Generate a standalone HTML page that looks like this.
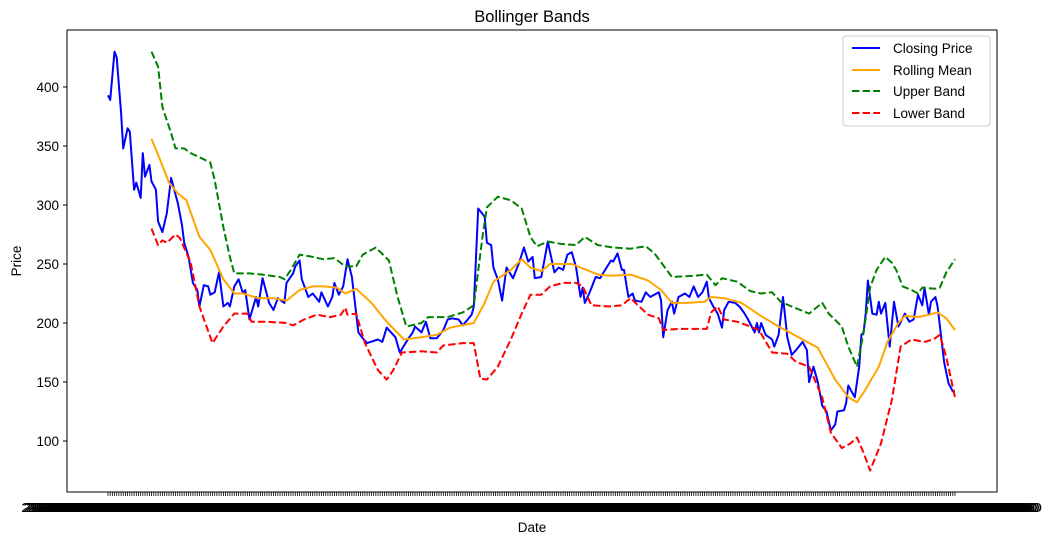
<!DOCTYPE html>
<html><head><meta charset="utf-8"><style>
html,body{margin:0;padding:0;background:#fff;}
svg{display:block;font-family:"Liberation Sans","DejaVu Sans",sans-serif;}
</style></head><body>
<svg id="chart" width="1052" height="545" viewBox="0 0 1052 545" xmlns="http://www.w3.org/2000/svg">
<rect width="1052" height="545" fill="#fff"/>
<text x="532" y="22" font-size="16.5" text-anchor="middle">Bollinger Bands</text>
<text transform="translate(21,261) rotate(-90)" font-size="13.5" text-anchor="middle">Price</text>
<text x="532" y="532" font-size="13.5" text-anchor="middle">Date</text>
<g id="yaxis"></g>
<g id="xaxis"></g>
<g id="plot"></g>
<rect x="67" y="30" width="930" height="462" fill="none" stroke="#000" stroke-width="1"/>
<g>
<rect x="843" y="36" width="147" height="90" rx="3" fill="#fff" fill-opacity="0.8" stroke="#ccc"/>
<g><line x1="852" y1="48" x2="880" y2="48" stroke="#0000ff" stroke-width="2"/><text x="893" y="53" font-size="13.5">Closing Price</text></g>
<g><line x1="852" y1="70" x2="880" y2="70" stroke="#ffa500" stroke-width="2"/><text x="893" y="75" font-size="13.5">Rolling Mean</text></g>
<g><line x1="852" y1="91" x2="880" y2="91" stroke="#008000" stroke-width="2" stroke-dasharray="7.4,3.2"/><text x="893" y="96" font-size="13.5">Upper Band</text></g>
<g><line x1="852" y1="113" x2="880" y2="113" stroke="#ff0000" stroke-width="2" stroke-dasharray="7.4,3.2"/><text x="893" y="118" font-size="13.5">Lower Band</text></g>
</g>
</svg>
<script>
const nDays = 390;
const yTicks = [100,150,200,250,300,350,400];
const closeIdx = [0,1,3,4,6,7,9,10,12,13,15,16,17,19,20,22,23,25,27,29,32,34,35,37,39,41,42,44,46,47,49,51,53,55,56,58,60,62,63,65,68,69,71,74,76,78,81,82,85,86,88,89,92,94,97,98,101,103,104,106,108,110,112,115,117,119,124,126,128,130,132,134,138,140,141,144,146,148,151,154,156,158,161,163,167,168,170,173,174,176,177,179,181,183,186,189,191,193,195,196,199,202,205,207,209,211,213,215,217,218,219,221,224,226,229,231,232,234,236,237,239,241,242,245,247,249,253,254,255,257,259,260,262,265,267,269,271,273,275,276,278,280,282,283,285,288,290,292,294,297,298,299,300,302,305,306,308,310,312,314,316,319,321,322,324,326,328,330,332,334,335,338,339,340,343,345,346,347,348,349,351,353,354,355,357,359,361,363,366,368,370,372,374,375,377,378,380,381,384,386,388,389];
const closeVals = [393,389,430,425,378,348,365,362,313,319,306,344,324,334,320,313,286,277,293,323,302,283,268,256,234,228,214,232,231,224,226,243,214,217,214,231,237,225,228,203,222,214,238,217,211,221,217,234,242,248,253,237,222,225,218,226,214,222,234,224,231,254,239,192,187,183,186,184,196,192,188,175,187,192,197,192,201,187,187,194,203,204,203,198,207,214,297,290,268,266,247,237,219,247,238,252,264,252,256,238,239,269,243,247,245,258,260,247,222,230,217,225,239,238,247,253,252,259,245,245,222,225,219,218,226,222,226,219,188,211,218,208,222,225,222,231,222,226,235,221,214,208,196,211,218,217,214,209,203,192,200,192,200,190,186,180,190,222,188,173,177,184,177,150,163,150,130,125,109,114,125,126,132,147,137,163,190,192,208,236,208,207,218,208,217,180,218,197,208,201,203,224,215,230,207,218,222,214,167,149,142,142];
const meanIdx = [20,24,28,32,36,42,47,53,58,62,69,76,82,88,94,99,105,109,114,121,128,136,144,151,157,168,173,177,185,190,194,199,203,213,217,225,231,240,248,254,259,266,274,277,283,291,299,308,318,326,334,340,344,347,354,358,363,366,372,377,381,385,389];
const meanVals = [356,338,319,310,304,273,262,237,225,225,221,221,219,228,231,231,230,225,229,217,201,186,188,190,196,200,217,235,245,254,247,244,250,250,247,241,240,241,236,228,217,217,218,222,221,217,207,197,187,179,152,137,133,141,163,184,200,206,205,207,209,204,194];
const upperIdx = [20,23,25,29,31,35,38,47,49,53,56,58,65,71,79,81,84,88,94,99,104,109,114,117,123,129,133,137,144,147,156,163,168,172,174,179,185,190,194,197,202,208,215,219,225,232,240,247,251,255,259,269,275,279,282,289,295,300,305,309,314,322,328,331,337,340,344,347,350,353,357,360,362,365,369,372,374,380,382,385,389];
const upperVals = [430,417,383,361,348,348,344,336,321,281,256,242,242,241,239,237,245,258,256,254,255,248,248,258,264,253,222,197,200,205,205,209,215,273,298,307,304,297,273,265,269,267,266,273,266,264,263,265,259,249,239,240,241,232,238,235,227,225,226,218,214,208,217,208,197,180,163,192,230,245,256,251,245,231,228,225,230,229,230,243,254];
const lowerIdx = [20,23,25,27,31,33,38,42,48,53,58,64,66,73,82,85,90,96,102,107,109,110,114,118,124,128,131,135,144,151,154,163,168,171,174,179,185,190,194,199,203,209,215,218,222,230,236,240,244,248,253,255,262,275,277,280,283,289,295,299,305,312,316,322,328,332,337,341,344,347,350,355,360,364,369,375,379,382,385,389];
const lowerVals = [280,266,270,268,275,272,251,214,183,197,208,208,201,201,200,198,203,207,205,207,213,207,208,183,160,152,160,175,176,175,181,183,183,153,152,163,186,208,224,224,231,234,234,231,215,214,215,221,214,207,204,194,195,195,209,214,203,201,197,194,175,174,167,163,137,107,94,98,103,90,75,98,135,180,186,184,186,190,171,137];

const NS = 'http://www.w3.org/2000/svg';
const X0 = 108, X1 = 955;
function xs(i){ return X0 + (X1 - X0) * i / (nDays - 1); }
function ys(v){ return 87 + (400 - v) * 1.18; }
function mk(tag, attrs, parent){ const e = document.createElementNS(NS, tag); for (const k in attrs) e.setAttribute(k, attrs[k]); parent.appendChild(e); return e; }

const yaxis = document.getElementById('yaxis');
yTicks.forEach(t => {
  const ln = mk('line', {x1:63, x2:67, y1:ys(t), y2:ys(t), stroke:'#000'}, yaxis);
  
  
  const tx = mk('text', {x:59, y:ys(t)+5, 'font-size':13.5, 'text-anchor':'end'}, yaxis);
  
  
  tx.textContent = t;
});

// date labels (business days)
const dateLabels = [];
let d = new Date(Date.UTC(2022, 0, 3));
while (dateLabels.length < nDays) {
  const wd = d.getUTCDay();
  if (wd !== 0 && wd !== 6) dateLabels.push(d.toISOString().slice(0,10) + ' 00:00:00');
  d = new Date(d.getTime() + 86400000);
}
const xaxis = document.getElementById('xaxis');
dateLabels.forEach((lab, i) => {
  const ln = mk('line', {x1:xs(i), x2:xs(i), y1:492, y2:496, stroke:'#000', 'stroke-width':0.8}, xaxis);
  
  
  const tx = mk('text', {x:xs(i), y:512, 'font-size':13, 'text-anchor':'middle', textLength:174, lengthAdjust:'spacingAndGlyphs'}, xaxis);
  
  
  tx.textContent = lab;
});

const plot = document.getElementById('plot');
function series(idx, vals, color, dashed, name){
  const pts = idx.map((i, k) => xs(i).toFixed(1) + ',' + ys(vals[k]).toFixed(1)).join(' ');
  const pl = mk('polyline', {points:pts, fill:'none', stroke:color, 'stroke-width':2, 'stroke-linejoin':'round'}, plot);
  if (dashed) pl.setAttribute('stroke-dasharray', '7.4,3.2');
  
  
}
series(closeIdx, closeVals, '#0000ff', false, 'closing-price-line');
series(meanIdx, meanVals, '#ffa500', false, 'rolling-mean-line');
series(upperIdx, upperVals, '#008000', true, 'upper-band-line');
series(lowerIdx, lowerVals, '#ff0000', true, 'lower-band-line');
</script>
</body></html>
